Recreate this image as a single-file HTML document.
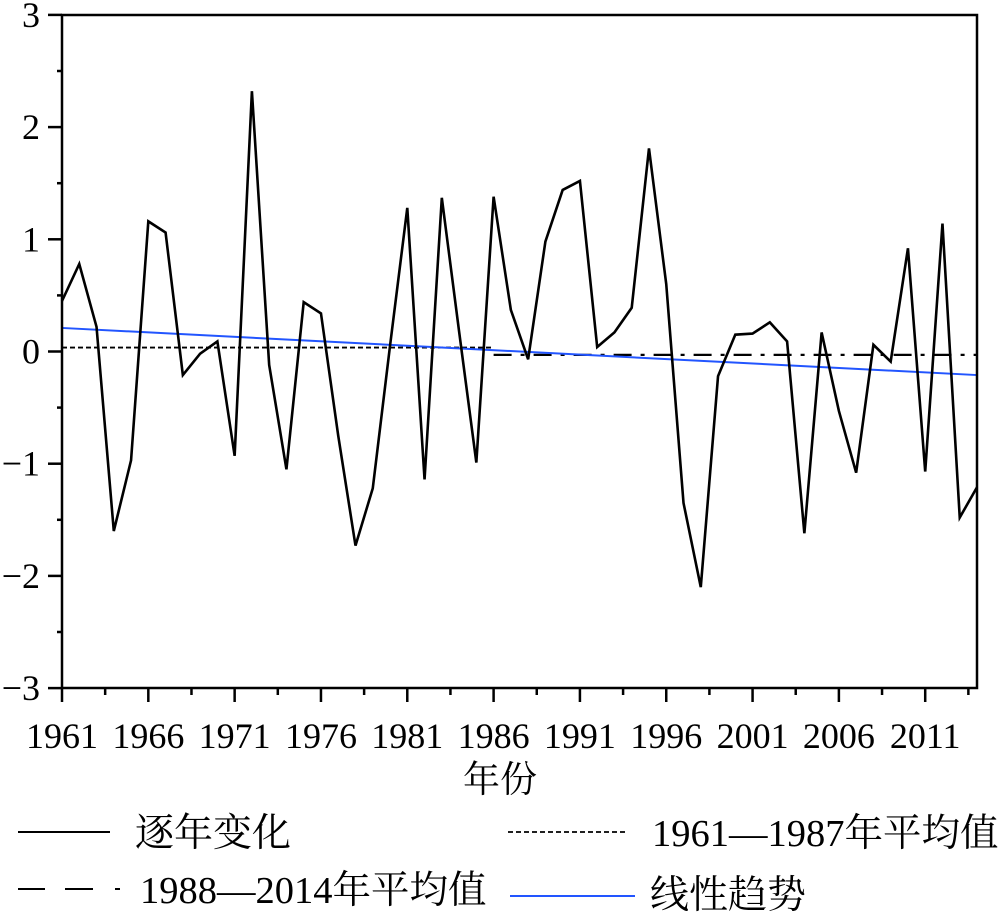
<!DOCTYPE html>
<html><head><meta charset="utf-8"><style>
html,body{margin:0;padding:0;background:#fff;}
svg{display:block;}
text{font-family:"Liberation Serif","Noto Serif CJK SC",serif;fill:#000;}
</style></head><body>
<svg width="1000" height="913" viewBox="0 0 1000 913" xmlns="http://www.w3.org/2000/svg">
<g id="chart"></g>
<rect x="62" y="15" width="915" height="673" fill="none" stroke="#000" stroke-width="2.5"/>
<g stroke="#000" stroke-width="2.5" id="ticks"></g>
<g font-size="36" text-anchor="end" id="ylab"></g>
<g font-size="36" text-anchor="middle" id="xlab"></g>
<text x="500" y="792" font-size="37" text-anchor="middle">年份</text>
<line x1="18" y1="832" x2="110" y2="832" stroke="#000" stroke-width="2"/>
<text x="135" y="846" font-size="39">逐年变化</text>
<line x1="508" y1="832" x2="628" y2="832" stroke="#000" stroke-width="1.8" stroke-dasharray="5 3"/>
<text x="652" y="846" font-size="38.5">1961—1987年平均值</text>
<g stroke="#000" stroke-width="2"><line x1="18" y1="889" x2="45" y2="889"/><line x1="65" y1="889" x2="93" y2="889"/><line x1="115" y1="889" x2="120" y2="889"/></g>
<text x="140" y="903" font-size="38.5">1988—2014年平均值</text>
<line x1="510" y1="896" x2="635" y2="896" stroke="#2255ff" stroke-width="2"/>
<text x="650" y="908" font-size="39">线性趋势</text>
<script>
const X=y=>62+(y-1961)*915/53, Y=v=>351.5-v*112.2;
const d=[0.45,0.78,0.22,-1.6,-0.97,1.16,1.06,-0.21,-0.02,0.09,-0.93,2.32,-0.12,-1.05,0.44,0.34,-0.75,-1.73,-1.22,0.05,1.28,-1.14,1.37,0.18,-0.99,1.38,0.37,-0.07,0.98,1.44,1.52,0.04,0.17,0.39,1.81,0.6,-1.35,-2.1,-0.22,0.15,0.16,0.26,0.09,-1.62,0.17,-0.53,-1.08,0.06,-0.09,0.92,-1.07,1.14,-1.48,-1.21];
const ns="http://www.w3.org/2000/svg";
function el(p,t,a,txt){const e=document.createElementNS(ns,t);for(const k in a)e.setAttribute(k,a[k]);if(txt!==undefined)e.textContent=txt;document.getElementById(p).appendChild(e);return e;}
el("chart","line",{x1:62,y1:Y(0.035),x2:X(1986),y2:Y(0.035),stroke:"#000","stroke-width":1.8,"stroke-dasharray":"5 3"});
el("chart","line",{x1:X(1986),y1:Y(-0.03),x2:977,y2:Y(-0.03),stroke:"#000","stroke-width":2.2,"stroke-dasharray":"18 9 4 9"});
el("chart","line",{x1:62,y1:Y(0.21),x2:977,y2:Y(-0.21),stroke:"#2255ff","stroke-width":2});
el("chart","polyline",{points:d.map((v,i)=>X(1961+i)+","+Y(v)).join(" "),fill:"none",stroke:"#000","stroke-width":2.6,"stroke-linejoin":"miter"});
for(let i=0;i<=12;i++){const v=-3+i*0.5,y=Y(v),maj=i%2==0;el("ticks","line",{x1:62,y1:y,x2:maj?48:57,y2:y});if(maj)el("ylab","text",{x:40,y:y+12},v<0?"\u2212"+(-v):String(v));}
for(let i=0;i<=21;i++){const yr=1961+i*2.5,x=X(yr),maj=i%2==0;if(yr>2014)break;el("ticks","line",{x1:x,y1:688,x2:x,y2:maj?702:695});if(maj)el("xlab","text",{x:x,y:748},String(yr));}
</script>
</svg>
</body></html>
